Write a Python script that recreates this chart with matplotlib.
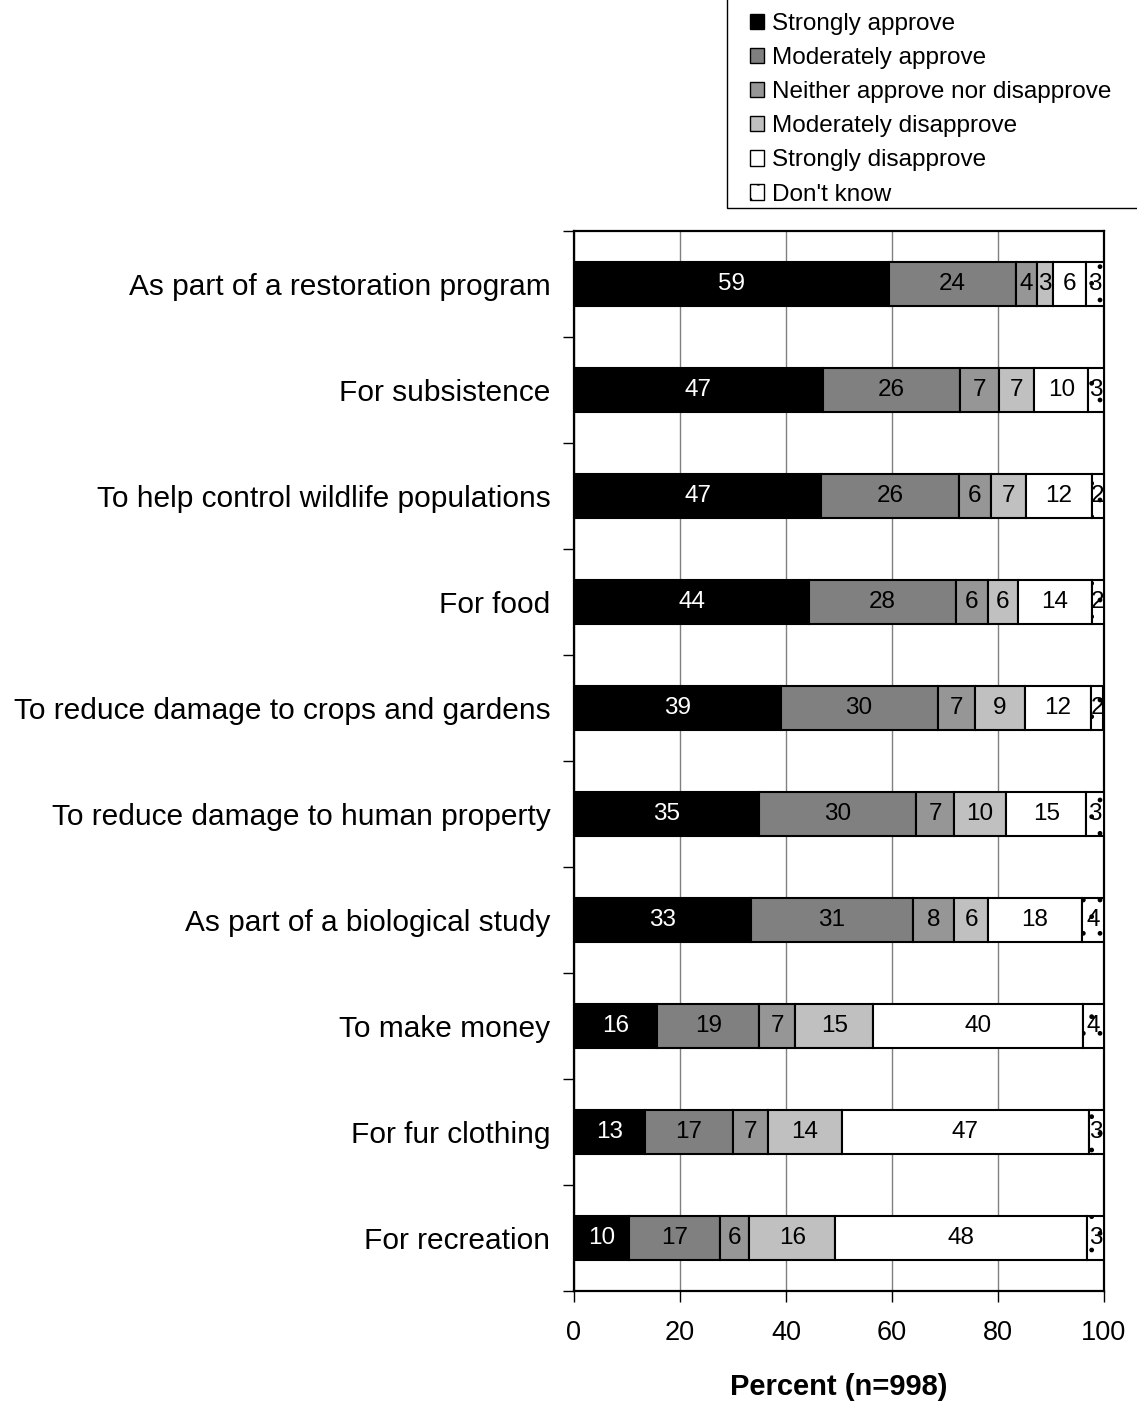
import matplotlib
matplotlib.use('Agg')
import matplotlib.pyplot as plt
import numpy as np
from matplotlib.patches import Rectangle, Patch

plt.rcParams['font.family'] = ['Liberation Sans', 'DejaVu Sans']

# categories, top to bottom
categories = [
    'As part of a restoration program',
    'For subsistence',
    'To help control wildlife populations',
    'For food',
    'To reduce damage to crops and gardens',
    'To reduce damage to human property',
    'As part of a biological study',
    'To make money',
    'For fur clothing',
    'For recreation',
]

series_names = [
    'Strongly approve',
    'Moderately approve',
    'Neither approve nor disapprove',
    'Moderately disapprove',
    'Strongly disapprove',
    "Don't know",
]

# percent values per response
strongly_approve = [59.4, 47.0, 46.7, 44.4, 39.0, 35.0, 33.4, 15.7, 13.4, 10.4]
moderately_approve = [24.0, 25.9, 25.9, 27.7, 29.6, 29.6, 30.6, 19.3, 16.6, 17.1]
neither = [3.9, 7.3, 6.1, 6.0, 7.1, 7.2, 7.8, 6.8, 6.7, 5.6]
moderately_disapprove = [3.1, 6.7, 6.6, 5.6, 9.4, 9.7, 6.4, 14.7, 13.8, 16.2]
strongly_disapprove = [6.3, 10.1, 12.4, 14.0, 12.4, 15.2, 17.6, 39.5, 46.6, 47.6]
dont_know = [3.3, 3.0, 2.3, 2.3, 2.4, 3.3, 4.2, 4.0, 2.9, 3.1]

series = [strongly_approve, moderately_approve, neither,
          moderately_disapprove, strongly_disapprove, dont_know]
colors = ['#000000', '#808080', '#969696', '#C0C0C0', '#FFFFFF', '#FFFFFF']
hatches = [None, None, None, None, None, '.']
text_colors = ['white', 'black', 'black', 'black', 'black', 'black']

fig = plt.figure(figsize=(11.37, 14.02), dpi=100)
ax = fig.add_axes([0.5048, 0.0792, 0.4661, 0.7560])

y = np.arange(len(categories))
left = np.zeros(len(categories))
bar_h = 0.415

for vals, col, hat, tcol in zip(series, colors, hatches, text_colors):
    vals = np.array(vals)
    ax.barh(y, vals, height=bar_h, left=left, color=col, edgecolor='black',
            linewidth=1.5, hatch=hat, zorder=3)
    for i, v in enumerate(vals):
        ax.text(left[i] + v / 2, y[i], f'{v:.0f}', ha='center', va='center',
                color=tcol, fontsize=17.5, zorder=4)
    left += vals

ax.set_xlim(0, 100)
ax.set_ylim(len(categories) - 0.5, -0.5)

ax.set_xticks(np.arange(0, 101, 20))
ax.tick_params(axis='x', labelsize=19.5, direction='out', length=8, width=1,
               pad=13)
ax.set_yticks(y)
ax.set_yticklabels(categories, fontsize=21.5)
ax.tick_params(axis='y', which='major', length=0, pad=17)
ax.set_yticks(np.arange(-0.5, len(categories) + 0.5, 1), minor=True)
ax.tick_params(axis='y', which='minor', direction='out', length=8, width=1)

ax.xaxis.grid(True, color='#808080', linewidth=1, zorder=0)
ax.set_axisbelow(True)
for s in ax.spines.values():
    s.set_linewidth(1.6)
    s.set_color('black')

ax.set_xlabel('Percent (n=998)', fontsize=21, fontweight='bold', labelpad=19)

# legend box
fig.patches.append(Rectangle((727 / 1137, 1 - 208 / 1402), 420 / 1137, 210 / 1402,
                             transform=fig.transFigure, facecolor='white',
                             edgecolor='black', linewidth=1))
handles = [Patch(facecolor=c, edgecolor='black', hatch=h, linewidth=1)
           for c, h in zip(colors, hatches)]
fig.legend(handles, series_names, loc='upper left',
           bbox_to_anchor=(745 / 1137, 1 - 8 / 1402), frameon=False,
           fontsize=17.5, handlelength=0.6, handleheight=0.6,
           handletextpad=0.3, labelspacing=0.5, borderaxespad=0,
           borderpad=0.2)

fig.savefig('out.png', dpi=100)
